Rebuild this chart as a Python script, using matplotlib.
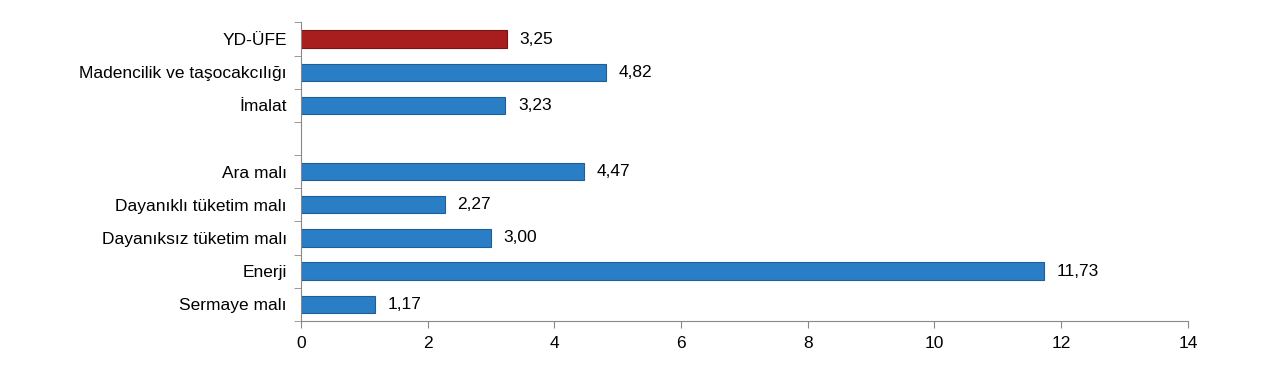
import numpy as np
import matplotlib.pyplot as plt

plt.rcParams['font.family'] = ['Liberation Sans', 'DejaVu Sans']

# categories top to bottom, blank slot after the first group
categories = ["YD-ÜFE", "Madencilik ve taşocakcılığı", "İmalat",
              "Ara malı", "Dayanıklı tüketim malı", "Dayanıksız tüketim malı",
              "Enerji", "Sermaye malı"]
values = [3.25, 4.82, 3.23, 4.47, 2.27, 3.00, 11.73, 1.17]
colors = ["#A81E1E"] + ["#2A7EC6"] * 7
edges = ["#7A1414"] + ["#1F5E96"] * 7

# slot index of each bar (slot 3 left empty)
slots = [0, 1, 2, 4, 5, 6, 7, 8]
nslots = 9

fig = plt.figure(figsize=(12.8, 3.81), dpi=100)
ax = fig.add_axes([0.235, 0.158, 0.693, 0.783])

ax.barh(slots, values, height=0.52, color=colors, edgecolor=edges, linewidth=0.8)

for s, v in zip(slots, values):
    ax.annotate(f"{v:.2f}".replace(".", ","), (v, s), xytext=(9, 0),
                textcoords="offset points", va="center", ha="left", fontsize=12.5)

ax.set_ylim(nslots - 0.5, -0.5)
ax.set_xlim(0, 14)
ax.set_xticks(np.arange(0, 15, 2))

ax.set_yticks(slots)
ax.set_yticklabels(categories, fontsize=12.5)
ax.set_yticks(np.arange(-0.5, nslots, 1), minor=True)
ax.tick_params(axis="y", which="major", length=0, pad=10)
ax.tick_params(axis="y", which="minor", length=5, color="#888888")
ax.tick_params(axis="x", length=5, color="#888888", labelsize=12.5, pad=6)

for side in ["top", "right"]:
    ax.spines[side].set_visible(False)
for side in ["left", "bottom"]:
    ax.spines[side].set_color("#888888")

fig.savefig("out.png", dpi=100)
